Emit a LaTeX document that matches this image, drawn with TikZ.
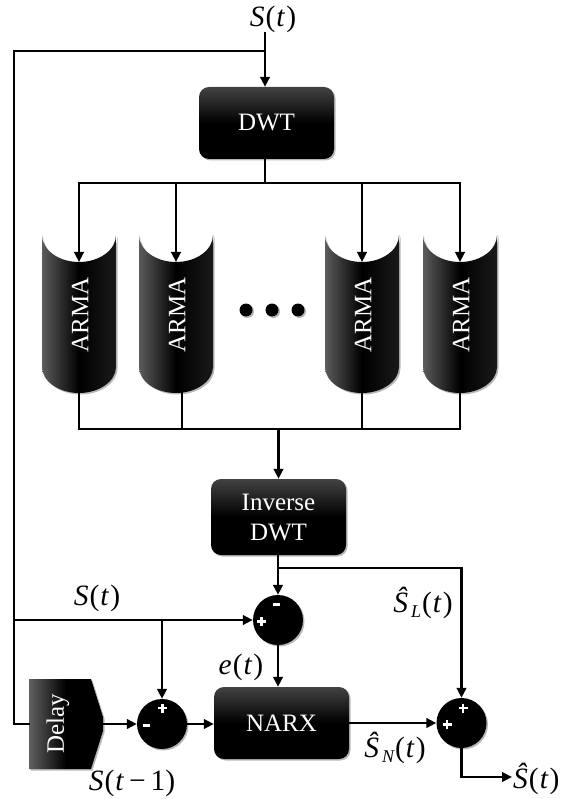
\documentclass[tikz,border=0pt]{standalone}
\usepackage{fontspec}
\setmainfont{Liberation Serif}
\usetikzlibrary{arrows.meta,shadows}

\newcommand\boxfont{\fontsize{25}{30}\selectfont}
\newcommand\lblfont{\fontsize{29.5}{33}\selectfont}
\newcommand\subidx[1]{\kern2pt\raisebox{-5pt}{\fontsize{18}{18}\selectfont\itshape #1}\kern1pt}
\newcommand\vS{\textit{S}\kern1pt}
\newcommand\vhS{{\itshape\^S}\kern1pt}
\newcommand\vt{(\kern1pt\textit{t}\kern1pt)}

\tikzset{
  wire/.style={line width=2.9pt, line cap=rect},
  flow/.style={wire, -{Triangle[length=10pt,width=9.5pt]}},
  softshadow/.style={drop shadow={shadow xshift=1.5pt, shadow yshift=-1.5pt, opacity=0.28, fill=black}},
  blockbox/.style={rounded corners=10pt, minimum width=135pt, inner sep=0pt,
    align=center, text=white, font=\boxfont,
    top color=black!74, bottom color=black, middle color=black, softshadow},
  armabody/.style={left color=black!64, right color=black!90, middle color=black, softshadow},
  delaybody/.style={left color=black!62, right color=black, middle color=black, softshadow},
  sumnode/.style={circle, minimum size=50pt, inner sep=0pt, fill=black, softshadow},
  signstroke/.style={draw=white, line width=2.4pt},
  minusstroke/.style={draw=white, line width=3pt},
  dotnode/.style={circle, minimum size=13pt, inner sep=0pt, fill=black, softshadow},
  vlabel/.style={text=white, font=\boxfont, rotate=90, inner sep=0pt},
  lbl/.style={font=\lblfont, inner sep=0pt, anchor=base}
}
% white plus / minus marks on the summing junctions
\newcommand\plusmark[1]{%
  \path[signstroke] ([xshift=-4.5pt]#1) -- ([xshift=4.5pt]#1)
                    ([yshift=-4.5pt]#1) -- ([yshift=4.5pt]#1);}
\newcommand\minusmark[1]{%
  \path[minusstroke] ([xshift=-3.8pt]#1) -- ([xshift=3.8pt]#1);}

\begin{document}
\begin{tikzpicture}[x=1pt,y=-1pt]
\useasboundingbox (0,0) rectangle (561,799);

% ---- wavelet decomposition stage ----
\node[blockbox, minimum height=72pt] (dwt) at (266.5,123) {DWT};

\foreach \i/\cx in {1/79,2/176,3/362,4/460}{
  \path[armabody] (\cx-37,235) .. controls (\cx-37,250) and (\cx-20.4,262) .. (\cx,262)
        .. controls (\cx+20.4,262) and (\cx+37,250) .. (\cx+37,235)
        -- (\cx+37,367) .. controls (\cx+37,381) and (\cx+20.4,393) .. (\cx,393)
        .. controls (\cx-20.4,393) and (\cx-37,381) .. (\cx-37,367) -- cycle;
  \node[vlabel] (arma\i) at (\cx+1,315) {ARMA};
  \coordinate (arma\i-in) at (\cx,262);
  \coordinate (arma\i-out) at (\cx,393);
}
\coordinate (arma2-out) at (182,393);

\node[dotnode] (dot1) at (246,310) {};
\node[dotnode] (dot2) at (272,310) {};
\node[dotnode] (dot3) at (298,310) {};

\node[blockbox, minimum height=76pt] (idwt) at (278.5,517) {Inverse\\DWT};

% ---- error correction stage ----
\node[blockbox, minimum height=72pt] (narx) at (281.5,723) {NARX};

\node[sumnode] (sum1) at (278,620) {};
\coordinate (sum1-a) at (276.5,604.5);
\coordinate (sum1-b) at (261.5,621.5);
\minusmark{sum1-a}
\plusmark{sum1-b}

\node[sumnode] (sum2) at (162,724) {};
\coordinate (sum2-a) at (162.5,708);
\coordinate (sum2-b) at (146.5,725.5);
\plusmark{sum2-a}
\minusmark{sum2-b}

\node[sumnode] (sum3) at (461.5,723) {};
\coordinate (sum3-a) at (463,708);
\coordinate (sum3-b) at (447,724.5);
\plusmark{sum3-a}
\plusmark{sum3-b}

% delay block
\path[delaybody] (29,679) -- (91,679) -- (103,717) -- (103,731) -- (91,769) -- (29,769) -- cycle;
\node[vlabel] (delay) at (58,724) {Delay};
\coordinate (delay-in) at (29,724);
\coordinate (delay-tip) at (103,724);

% ---- connectors ----
\coordinate (sin) at (265,33);
\coordinate (tapTop) at (265,51);
\coordinate (fbTop) at (14,51);
\coordinate (fbMid) at (14,620);
\coordinate (fbBot) at (14,724);
\coordinate (busA) at (79,183);
\coordinate (busB) at (460,183);
\coordinate (busC) at (79,429);
\coordinate (busD) at (460,429);
\coordinate (tapS) at (162,620);
\coordinate (tapR) at (278,568);
\coordinate (cornerR) at (461.5,568);
\coordinate (cornerOut) at (461.5,777);
\coordinate (out) at (512,777);

\draw[flow] (sin) -- (sin |- dwt.north);
\draw[wire] (tapTop) -- (fbTop) -- (fbBot) -- (delay-in);
\draw[wire] (sin |- dwt.south) -- (sin |- busA);
\draw[wire] (busA) -- (busB);
\foreach \i in {1,...,4}{
  \draw[flow] (arma\i-in |- busA) -- (arma\i-in);
  \draw[wire] (arma\i-out) -- (arma\i-out |- busC);
}
\draw[wire] (busC) -- (busD);
\draw[flow] (idwt.north |- busC) -- (idwt.north);

\draw[flow] (idwt.south -| sum1) -- (sum1.north);
\draw[flow] (tapR) -- (cornerR) -- (sum3.north);
\draw[flow] (fbMid) -- (sum1.west);
\draw[flow] (tapS) -- (sum2.north);
\draw[flow] (delay-tip) -- (sum2.west);
\draw[flow] (sum2.east) -- (narx.west |- sum2);
\draw[flow] (sum1.south) -- (sum1.south |- narx.north);
\draw[flow] (narx.east |- sum3) -- (sum3.west);
\draw[flow] (sum3.south) -- (cornerOut) -- (out);

% ---- signal labels ----
\node[lbl] (l-in) at (273,27) {\vS\vt};
\node[lbl] (l-s) at (97,605) {\vS\vt};
\node[lbl] (l-sd) at (132,790) {\vS(\kern1pt\textit{t}\,−\,1)};
\node[lbl] (l-e) at (241,674) {\textit{e}\kern1pt\vt};
\node[lbl] (l-sl) at (423,612) {\vhS\subidx{L}\vt};
\node[lbl] (l-sn) at (395,757) {\vhS\subidx{N}\vt};
\node[lbl, anchor=base west] (l-out) at (513,788) {\vhS\vt};
\end{tikzpicture}
\end{document}
